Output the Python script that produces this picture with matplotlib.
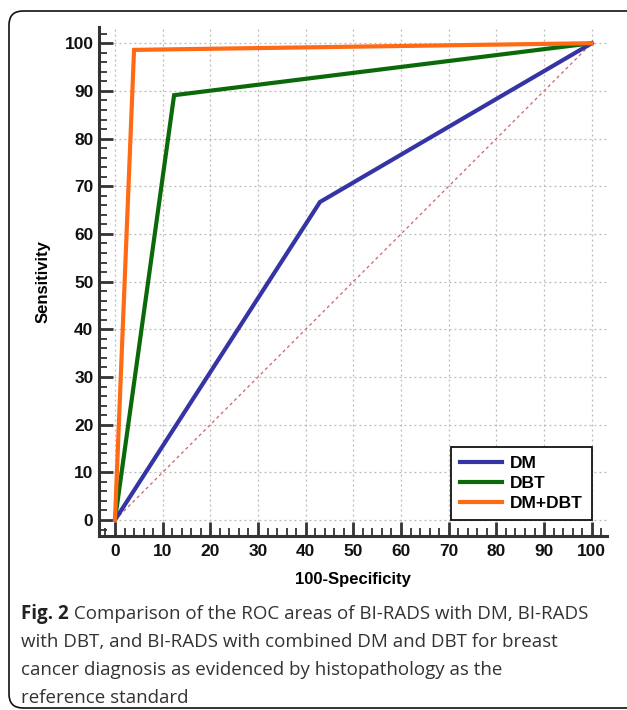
import matplotlib
matplotlib.use("Agg")
import matplotlib.pyplot as plt
from matplotlib.patches import FancyBboxPatch
from matplotlib.transforms import IdentityTransform
from matplotlib.ticker import MultipleLocator

# ---- data ----
series_names = ["DM", "DBT", "DM+DBT"]
dm_x = [0, 43, 100]
dm_y = [0, 66.7, 100]
dbt_x = [0, 12.4, 100]
dbt_y = [0, 89.1, 100]
comb_x = [0, 4.0, 100]
comb_y = [0, 98.6, 100]
diag_x = [0, 100]
diag_y = [0, 100]
tick_values = [0, 10, 20, 30, 40, 50, 60, 70, 80, 90, 100]
x_label = "100-Specificity"
y_label = "Sensitivity"
caption_bold = "Fig. 2"
caption_lines = [
    " Comparison of the ROC areas of BI-RADS with DM, BI-RADS",
    "with DBT, and BI-RADS with combined DM and DBT for breast",
    "cancer diagnosis as evidenced by histopathology as the",
    "reference standard",
]

W, H = 627, 710
fig = plt.figure(figsize=(W / 100, H / 100), dpi=100)
fig.patch.set_facecolor("white")

# axes in pixel layout
x0_px, x1_px = 99, 607
y_top_px, y_bot_px = 27, 536
ax = fig.add_axes([x0_px / W, 1 - y_bot_px / H, (x1_px - x0_px) / W, (y_bot_px - y_top_px) / H])
ax.set_xlim(-3.35, 103.2)
ax.set_ylim(-3.35, 103.4)

for s in ["top", "right"]:
    ax.spines[s].set_visible(False)
for s in ["left", "bottom"]:
    ax.spines[s].set_linewidth(2.2)
    ax.spines[s].set_color("#333333")

ax.set_xticks(tick_values)
ax.set_yticks(tick_values)
ax.xaxis.set_minor_locator(MultipleLocator(2))
ax.yaxis.set_minor_locator(MultipleLocator(2))
ax.tick_params(which="major", direction="in", length=10, width=2.0, color="#333333")
ax.tick_params(which="minor", direction="in", length=5.5, width=1.3, color="#333333")
ax.tick_params(axis="y", which="major", pad=4)
ax.tick_params(axis="x", which="major", pad=6)
for lab in ax.get_xticklabels() + ax.get_yticklabels():
    lab.set_fontfamily("Liberation Sans")
    lab.set_fontweight("bold")
    lab.set_fontsize(12.5)
    lab.set_color("#111111")

ax.grid(True, which="major", linestyle=(0, (1.5, 2.5)), color="#b8b8b8", linewidth=0.9)
ax.set_axisbelow(True)

ax.plot(diag_x, diag_y, color="#c06a6a", linewidth=0.9, linestyle=(0, (2.5, 2.5)), zorder=2)
ax.plot(dm_x, dm_y, color="#3434a4", linewidth=3, label=series_names[0], zorder=3, solid_joinstyle="miter")
ax.plot(dbt_x, dbt_y, color="#0a6a0a", linewidth=3, label=series_names[1], zorder=4, solid_joinstyle="miter")
ax.plot(comb_x, comb_y, color="#ff6a14", linewidth=3, label=series_names[2], zorder=5, solid_joinstyle="miter")

ax.set_xlabel(x_label, fontfamily="Liberation Sans", fontweight="bold", fontsize=12, labelpad=9)
ax.set_ylabel(y_label, fontfamily="Liberation Sans", fontweight="bold", fontsize=12, labelpad=10)

leg = ax.legend(loc="lower right", bbox_to_anchor=(100, 0), bbox_transform=ax.transData,
                borderaxespad=0, fancybox=False, framealpha=1, edgecolor="#111111",
                prop={"family": "Liberation Sans", "weight": "bold", "size": 12.5},
                handlelength=2.4, handletextpad=0.5, labelspacing=0.3, borderpad=0.5)
leg.get_frame().set_linewidth(1.3)

# caption
cap_font = "Open Sans"
cap_size = 13.5
baselines = [619, 647, 675, 703]
x_start = 21
tb = fig.text(x_start / W, 1 - baselines[0] / H, caption_bold, fontfamily=cap_font,
              fontweight="bold", fontsize=cap_size, va="baseline", ha="left", color="#222222")
fig.canvas.draw()
bb = tb.get_window_extent(renderer=fig.canvas.get_renderer())
fig.text(bb.x1 / W, 1 - baselines[0] / H, caption_lines[0], fontfamily=cap_font,
         fontsize=cap_size, va="baseline", ha="left", color="#333333")
for line, b in zip(caption_lines[1:], baselines[1:]):
    fig.text(x_start / W, 1 - b / H, line, fontfamily=cap_font, fontsize=cap_size,
             va="baseline", ha="left", color="#333333")

# border
border = FancyBboxPatch((9, H - 708), 660, 708 - 11, boxstyle="round,pad=0,rounding_size=14",
                        transform=IdentityTransform(), facecolor="none", edgecolor="#111111",
                        linewidth=1.2)
fig.add_artist(border)

fig.savefig("out.png", dpi=100, facecolor="white")
